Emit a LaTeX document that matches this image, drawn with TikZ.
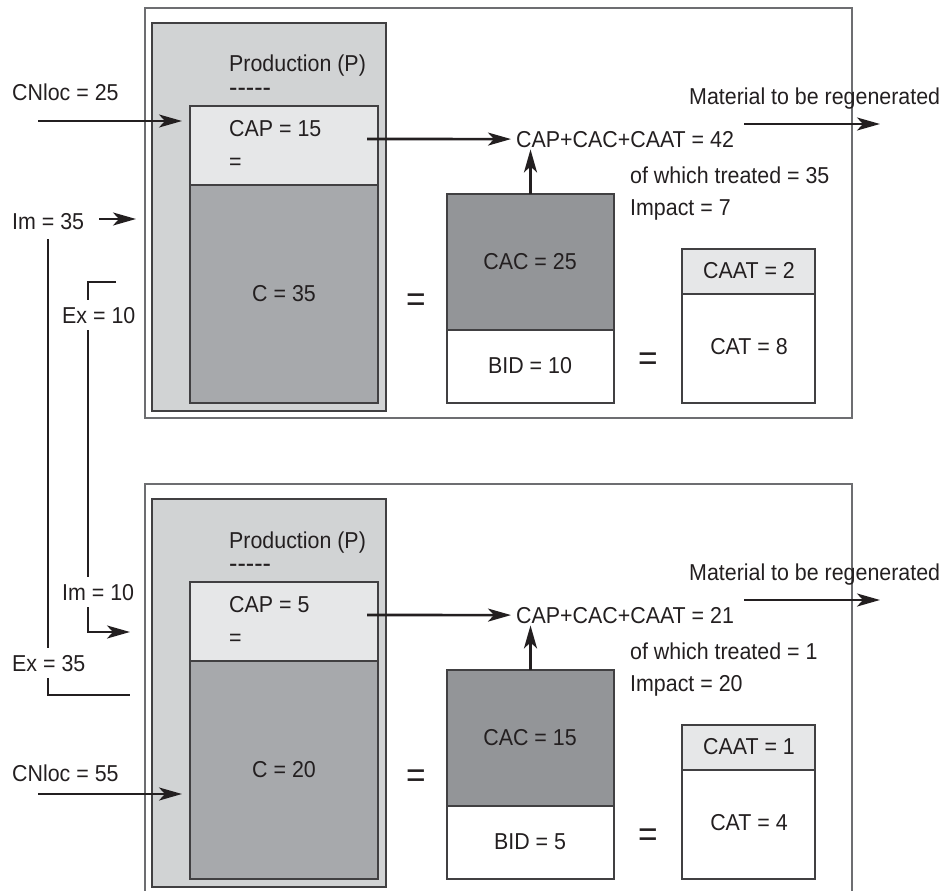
\documentclass[tikz,border=0pt]{standalone}
\usepackage{fontspec}
\setmainfont{Liberation Sans}[FakeStretch=0.93]
\usetikzlibrary{arrows.meta}
\definecolor{txt}{HTML}{231F20}
\definecolor{outerc}{HTML}{6D6E71}
\definecolor{prodfill}{HTML}{D1D3D4}
\definecolor{capfill}{HTML}{E6E7E8}
\definecolor{cfill}{HTML}{A7A9AC}
\definecolor{cacfill}{HTML}{939598}
\definecolor{edgec}{HTML}{414042}
\tikzset{
  lbl/.style={inner sep=0pt, text=txt, font=\fontsize{23}{26}\selectfont},
  bigeq/.style={inner sep=0pt, text=txt, font=\fontsize{36}{38}\selectfont},
  dashtxt/.style={inner sep=0pt, text=txt, font=\fontsize{27}{28}\selectfont},
  cut/.style={lbl, fill=white, inner sep=7pt},
  arr/.style={line width=2.6pt, draw=txt, -{Stealth[length=23pt,width=13pt,inset=6pt]}},
  wire/.style={line width=2.8pt, draw=txt},
  boxbase/.style={inner sep=0pt, outer sep=0pt, anchor=north west},
  outerbox/.style={boxbase, draw=outerc, line width=1.4pt, fill=white},
  databox/.style={boxbase, draw=edgec, line width=1.4pt},
}
\begin{document}
\begin{tikzpicture}[x=1pt,y=-1pt]
\useasboundingbox (0,0) rectangle (945,891);
\foreach \p/\dy/\vcap/\vc/\vsum/\vtr/\vimp/\vcac/\vbid/\vcaat/\vcat in
  {T/0/15/35/42/35/7/25/10/2/8,B/476/5/20/21/1/20/15/5/1/4}{
\begin{scope}[shift={(0,\dy)}]
  \node[outerbox, minimum width=707pt, minimum height=410pt] (outer\p) at (145,8) {};
  \node[databox, fill=prodfill, minimum width=234pt, minimum height=388pt] (prod\p) at (152,23) {};
  \node[databox, fill=capfill, minimum width=188pt, minimum height=79pt] (cap\p) at (190,106) {};
  \node[databox, fill=cfill, minimum width=188pt, minimum height=218pt] (cbox\p) at (190,185) {};
  \node[databox, fill=cacfill, minimum width=167pt, minimum height=136pt] (cac\p) at (447,194) {};
  \node[databox, fill=white, minimum width=167pt, minimum height=73pt] (bid\p) at (447,330) {};
  \node[databox, fill=capfill, minimum width=133pt, minimum height=45pt] (caat\p) at (682,249) {};
  \node[databox, fill=white, minimum width=133pt, minimum height=109pt] (cat\p) at (682,294) {};
  % texts
  \node[lbl, anchor=base west] (ptitle\p) at (229,72) {Production (P)};
  \node[dashtxt, anchor=base west] (pdash\p) at (229,96) {-{}-{}-{}-{}-};
  \node[lbl, anchor=base west] (captxt\p) at (229,136) {CAP = \vcap};
  \node[lbl, anchor=base west] (capeq\p) at (229,169) {=};
  \node[lbl, anchor=base] (ctxt\p) at (284,301) {C = \vc};
  \node[bigeq] (eqa\p) at (416,303) {=};
  \node[lbl, anchor=base] (cactxt\p) at (530,269) {CAC = \vcac};
  \node[lbl, anchor=base] (bidtxt\p) at (530,373) {BID = \vbid};
  \node[bigeq] (eqb\p) at (648,362) {=};
  \node[lbl, anchor=base] (caattxt\p) at (749,278) {CAAT = \vcaat};
  \node[lbl, anchor=base] (cattxt\p) at (749,354) {CAT = \vcat};
  \node[lbl, anchor=base west] (sum\p) at (516,147) {CAP+CAC+CAAT = \vsum};
  \node[lbl, anchor=base west] (treat\p) at (630,183) {of which treated = \vtr};
  \node[lbl, anchor=base west] (imp\p) at (630,215) {Impact = \vimp};
  \node[lbl, anchor=base west] (mat\p) at (689,104) {Material to be regenerated};
  % arrows
  \coordinate (capout\p) at (367,139);
  \draw[arr] (capout\p) -- ([xshift=-5pt]sum\p.west);
  \draw[arr] (cac\p.north) -- ([yshift=-2pt]sum\p.south -| cac\p.north);
  \coordinate (matA\p) at (744,124);
  \coordinate (matB\p) at (880,124);
  \draw[arr] (matA\p) -- (matB\p);
\end{scope}
}
% left side labels and flows
\node[lbl, anchor=base west] (cn25) at (12,100) {CNloc = 25};
\coordinate (cn25a) at (38,121);
\coordinate (cn25b) at (182,121);
\draw[arr] (cn25a) -- (cn25b);
\node[lbl, anchor=base west] (im35) at (12,229) {Im = 35};
\coordinate (im35a) at (99,219);
\coordinate (im35b) at (136,219);
\draw[arr] (im35a) -- (im35b);
% line 1: Im = 35 (top) -> Ex = 35 (bottom)
\coordinate (l1a) at (48,239);
\coordinate (l1b) at (48,695);
\coordinate (l1c) at (130,695);
\draw[wire] (l1a) -- (l1b) -- (l1c);
% line 2: Ex = 10 (top) -> Im = 10 (bottom)
\coordinate (l2a) at (116,282);
\coordinate (l2b) at (88,282);
\coordinate (l2c) at (88,632);
\coordinate (l2d) at (130,632);
\draw[arr] (l2a) -- (l2b) -- (l2c) -- (l2d);
\node[cut, anchor=base west] (ex10) at (55,323) {Ex = 10};
\node[cut, anchor=base west] (im10) at (55,600) {Im = 10};
\node[cut, anchor=base west] (ex35) at (5,671) {Ex = 35};
\node[lbl, anchor=base west] (cn55) at (12,781) {CNloc = 55};
\coordinate (cn55a) at (38,794);
\coordinate (cn55b) at (182,794);
\draw[arr] (cn55a) -- (cn55b);
\end{tikzpicture}
\end{document}
